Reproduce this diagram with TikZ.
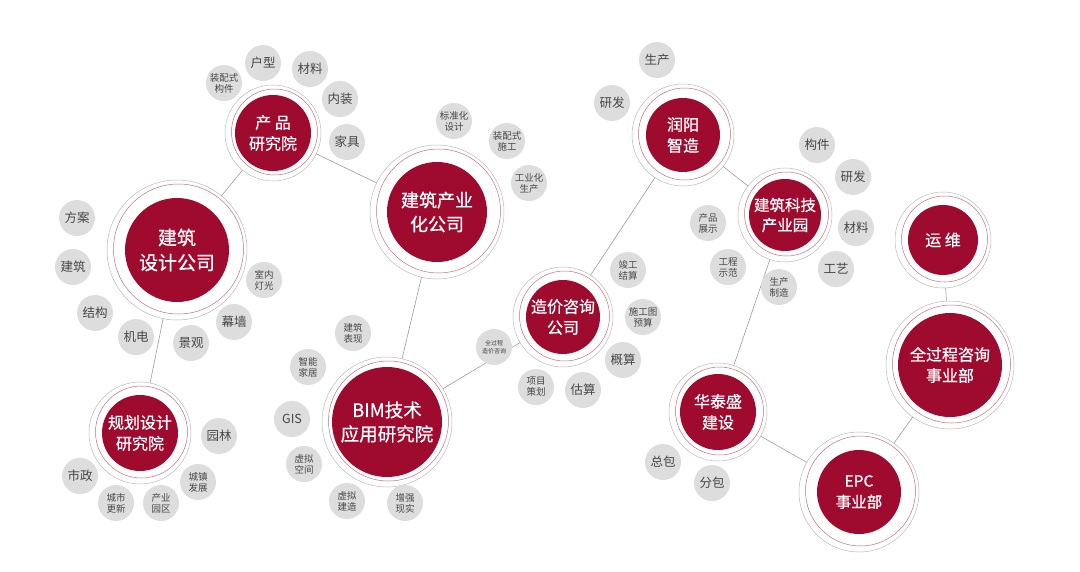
\documentclass[tikz,border=0pt]{standalone}
\usepackage{fontspec}
\setmainfont{Noto Sans CJK SC}
\newfontfamily\hubfam{Noto Sans CJK SC}[FakeBold=0.6]
\usepackage{tikz}
\usetikzlibrary{calc, positioning}
\definecolor{hubred}{RGB}{158,11,46}
\definecolor{satgray}{RGB}{221,221,221}
\definecolor{sattext}{RGB}{70,70,70}
\definecolor{linegray}{RGB}{155,155,155}
\definecolor{ringred}{RGB}{195,110,125}
\tikzset{
  hub/.style={circle, fill=hubred, text=white, align=center, inner sep=0pt},
  sat/.style={circle, fill=satgray, text=sattext, align=center, inner sep=0pt,
    minimum size=36pt, font=\fontsize{12.5}{14}\selectfont},
  satsmall/.style={sat, font=\fontsize{9.5}{11}\selectfont},
  sattiny/.style={sat, font=\fontsize{6}{7.5}\selectfont},
  ring/.style={draw=gray!55, line width=0.5pt},
  ringr/.style={draw=ringred, line width=0.5pt},
  link/.style={draw=linegray, line width=0.6pt}
}
\newcommand{\hubrings}[2]{%
  \draw[ring] (#1) circle[radius=#2pt];
  \draw[ringr] ($(#1)+(1.5,-1)$) circle[radius=#2pt-5pt];}

\begin{document}
\begin{tikzpicture}[x=1pt, y=-1pt]
  \useasboundingbox (0,0) rectangle (1080,571);
  % hubs
  \node[hub, minimum size=76pt, outer sep=10pt, font=\hubfam\fontsize{16}{21}\selectfont] (prod) at (273,133) {产 品\\研究院};
  \node[hub, minimum size=104pt, outer sep=18pt, font=\hubfam\fontsize{19}{25}\selectfont] (dsgn) at (177,250) {建筑\\设计公司};
  \node[hub, minimum size=76pt, outer sep=13pt, font=\hubfam\fontsize{16}{21}\selectfont] (plan) at (140,433) {规划设计\\研究院};
  \node[hub, minimum size=110pt, outer sep=10pt, font=\hubfam\fontsize{18.5}{24}\selectfont] (bim) at (387,422) {BIM技术\\应用研究院};
  \node[hub, minimum size=100pt, outer sep=17pt, font=\hubfam\fontsize{18}{24}\selectfont] (indu) at (437,212) {建筑产业\\化公司};
  \node[hub, minimum size=74pt, outer sep=13pt, font=\hubfam\fontsize{16}{21}\selectfont] (cost) at (563,317) {造价咨询\\公司};
  \node[hub, minimum size=74pt, outer sep=14pt, font=\hubfam\fontsize{16}{21}\selectfont] (ry) at (683,135) {润阳\\智造};
  \node[hub, minimum size=72pt, outer sep=11pt, font=\hubfam\fontsize{15.5}{20}\selectfont] (park) at (785,215) {建筑科技\\产业园};
  \node[hub, minimum size=70pt, outer sep=13pt, font=\hubfam\fontsize{16}{21}\selectfont] (yw) at (943,240) {运 维};
  \node[hub, minimum size=104pt, outer sep=12pt, font=\hubfam\fontsize{16}{21}\selectfont] (qgc) at (950,365) {全过程咨询\\事业部};
  \node[hub, minimum size=76pt, outer sep=11pt, font=\hubfam\fontsize{16}{21}\selectfont] (hts) at (718,412) {华泰盛\\建设};
  \node[hub, minimum size=84pt, outer sep=18pt, font=\hubfam\fontsize{15.5}{21}\selectfont] (epc) at (859,492) {EPC\\事业部};

  % rings round the hubs
  \hubrings{prod}{48}
  \hubrings{dsgn}{70}
  \hubrings{plan}{51}
  \hubrings{bim}{65}
  \hubrings{indu}{67}
  \hubrings{cost}{50}
  \hubrings{ry}{51}
  \hubrings{park}{47}
  \hubrings{yw}{48}
  \hubrings{qgc}{64}
  \hubrings{hts}{49}
  \hubrings{epc}{60}

  % links
  \draw[link] (prod) -- (dsgn);
  \draw[link] (prod) -- (indu);
  \draw[link] (dsgn) -- (plan);
  \draw[link] (indu) -- (bim);
  \draw[link] (bim) -- (cost);
  \draw[link] (cost) -- (ry);
  \draw[link] (ry) -- (park);
  \draw[link] (park) -- (hts);
  \draw[link] (hts) -- (epc);
  \draw[link] (epc) -- (qgc);
  \draw[link] (qgc) -- (yw);

  % 产品研究院
  \node[sat] (prodA) at (263,63) {户型};
  \node[sat] (prodB) at (310,69) {材料};
  \node[satsmall] (prodC) at (224,83) {装配式\\构件};
  \node[sat] (prodD) at (340,99) {内装};
  \node[sat] (prodE) at (347,142) {家具};
  % 建筑设计公司
  \node[sat] (dsgnA) at (77,218) {方案};
  \node[sat] (dsgnB) at (73,267) {建筑};
  \node[sat] (dsgnC) at (95,313) {结构};
  \node[sat] (dsgnD) at (136,337) {机电};
  \node[sat] (dsgnE) at (191,343) {景观};
  \node[sat] (dsgnF) at (234,322) {幕墙};
  \node[satsmall] (dsgnG) at (264,280) {室内\\灯光};
  % 规划设计研究院
  \node[sat] (planA) at (219,436) {园林};
  \node[sat] (planB) at (80,476) {市政};
  \node[satsmall] (planC) at (116,503) {城市\\更新};
  \node[satsmall] (planD) at (161,503) {产业\\园区};
  \node[satsmall] (planE) at (198,482) {城镇\\发展};
  % BIM
  \node[satsmall] (bimA) at (353,333) {建筑\\表现};
  \node[satsmall] (bimB) at (308,367) {智能\\家居};
  \node[sat] (bimC) at (292,419) {GIS};
  \node[satsmall] (bimD) at (304,464) {虚拟\\空间};
  \node[satsmall] (bimE) at (347,501) {虚拟\\建造};
  \node[satsmall] (bimF) at (405,503) {增强\\现实};
  % 建筑产业化公司
  \node[satsmall] (induA) at (454,121) {标准化\\设计};
  \node[satsmall] (induB) at (507,141) {装配式\\施工};
  \node[satsmall] (induC) at (529,183) {工业化\\生产};
  % 造价咨询公司
  \node[satsmall] (costA) at (628,270) {竣工\\结算};
  \node[satsmall] (costB) at (643,317) {施工图\\预算};
  \node[sat] (costC) at (623,360) {概算};
  \node[sat] (costD) at (583,390) {估算};
  \node[satsmall] (costE) at (536,387) {项目\\策划};
  \node[sattiny] (costF) at (494,347) {全过程\\造价咨询};
  % 润阳智造
  \node[sat] (ryA) at (657,60) {生产};
  \node[sat] (ryB) at (612,103) {研发};
  % 建筑科技产业园
  \node[sat] (parkA) at (817,145) {构件};
  \node[sat] (parkB) at (853,177) {研发};
  \node[sat] (parkC) at (856,228) {材料};
  \node[sat] (parkD) at (836,269) {工艺};
  \node[satsmall] (parkE) at (779,287) {生产\\制造};
  \node[satsmall] (parkF) at (728,267) {工程\\示范};
  \node[satsmall] (parkG) at (708,223) {产品\\展示};
  % 华泰盛建设
  \node[sat] (htsA) at (663,462) {总包};
  \node[sat] (htsB) at (712,483) {分包};
\end{tikzpicture}
\end{document}
